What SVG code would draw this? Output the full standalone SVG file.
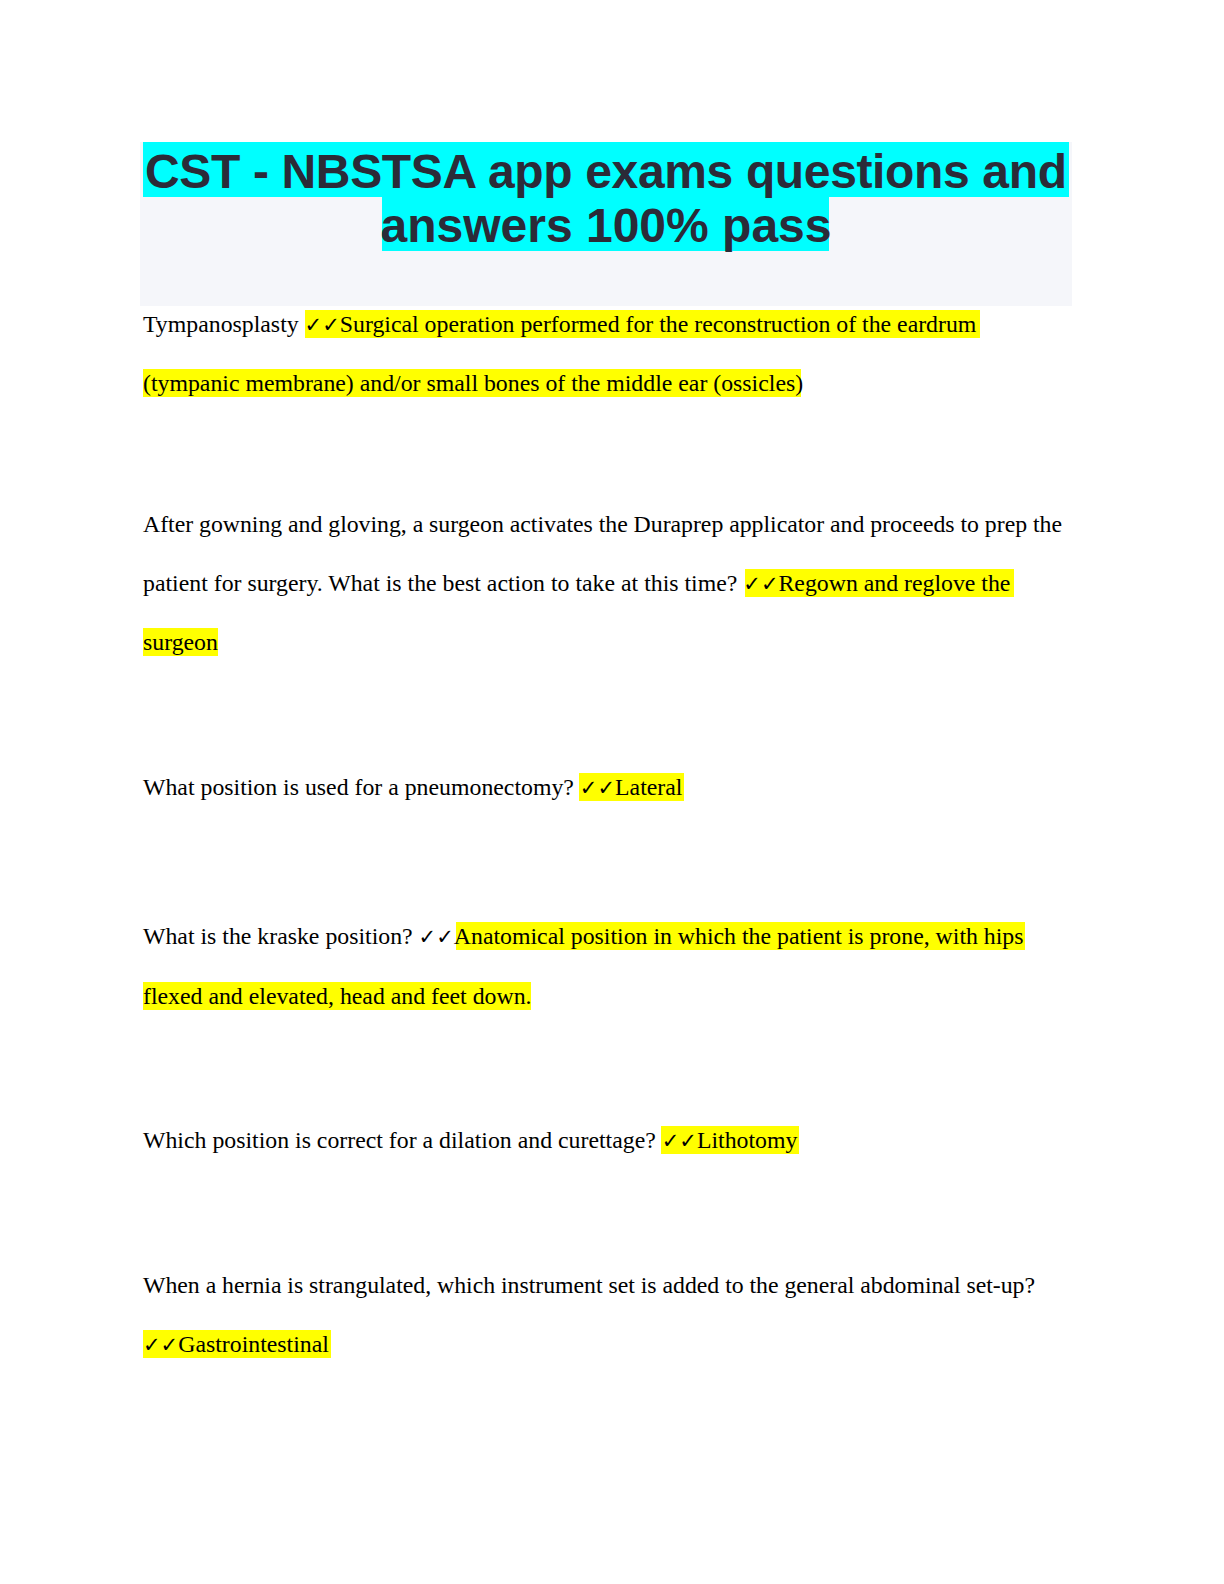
<svg xmlns="http://www.w3.org/2000/svg" width="1224" height="1584" viewBox="0 0 1224 1584">
<style>
.t{font-family:"Liberation Serif","Times New Roman",serif;font-size:23.8px;fill:#000}
.c{font-family:"DejaVu Sans",sans-serif;font-size:21px;font-weight:bold}
.h{fill:#ffff00}
.ti{font-family:"Liberation Sans",Arial,sans-serif;font-size:48px;font-weight:bold;fill:#2b2b38}
</style>
<rect width="1224" height="1584" fill="#fff"/>
<g id="title">
<rect x="140" y="142" width="932" height="164" fill="#f5f6fa"/>
<rect x="143" y="142" width="926" height="55" fill="#00ffff"/>
<rect x="382" y="197" width="447" height="54" fill="#00ffff"/>
<text class="ti" x="606" y="188" text-anchor="middle" textLength="922">CST - NBSTSA app exams questions and</text>
<text class="ti" x="606" y="242" text-anchor="middle">answers 100% pass</text>
</g>
<g id="highlights">
<rect class="h" x="305" y="310" width="675" height="28"/>
<rect class="h" x="143" y="369" width="658" height="28"/>
<rect class="h" x="745" y="569" width="269" height="28"/>
<rect class="h" x="143" y="628" width="75" height="28"/>
<rect class="h" x="579" y="773" width="105" height="28"/>
<rect class="h" x="456" y="922" width="569" height="28"/>
<rect class="h" x="143" y="982" width="388" height="28"/>
<rect class="h" x="661" y="1126" width="138" height="28"/>
<rect class="h" x="143" y="1330" width="188" height="28"/>
</g>
<g id="text">
<text class="t" x="143" y="332">Tympanosplasty <tspan class="c">✓✓</tspan>Surgical operation performed for the reconstruction of the eardrum</text>
<text class="t" x="143" y="391">(tympanic membrane) and/or small bones of the middle ear (ossicles)</text>
<text class="t" x="143" y="532" textLength="919">After gowning and gloving, a surgeon activates the Duraprep applicator and proceeds to prep the</text>
<text class="t" x="143" y="591">patient for surgery. What is the best action to take at this time? <tspan class="c">✓✓</tspan>Regown and reglove the</text>
<text class="t" x="143" y="650">surgeon</text>
<text class="t" x="143" y="795">What position is used for a pneumonectomy? <tspan class="c">✓✓</tspan>Lateral</text>
<text class="t" x="143" y="944">What is the kraske position? <tspan class="c">✓✓</tspan>Anatomical position in which the patient is prone, with hips</text>
<text class="t" x="143" y="1004">flexed and elevated, head and feet down.</text>
<text class="t" x="143" y="1148">Which position is correct for a dilation and curettage? <tspan class="c">✓✓</tspan>Lithotomy</text>
<text class="t" x="143" y="1293" textLength="892">When a hernia is strangulated, which instrument set is added to the general abdominal set-up?</text>
<text class="t" x="143" y="1352"><tspan class="c">✓✓</tspan>Gastrointestinal</text>
</g>
</svg>
